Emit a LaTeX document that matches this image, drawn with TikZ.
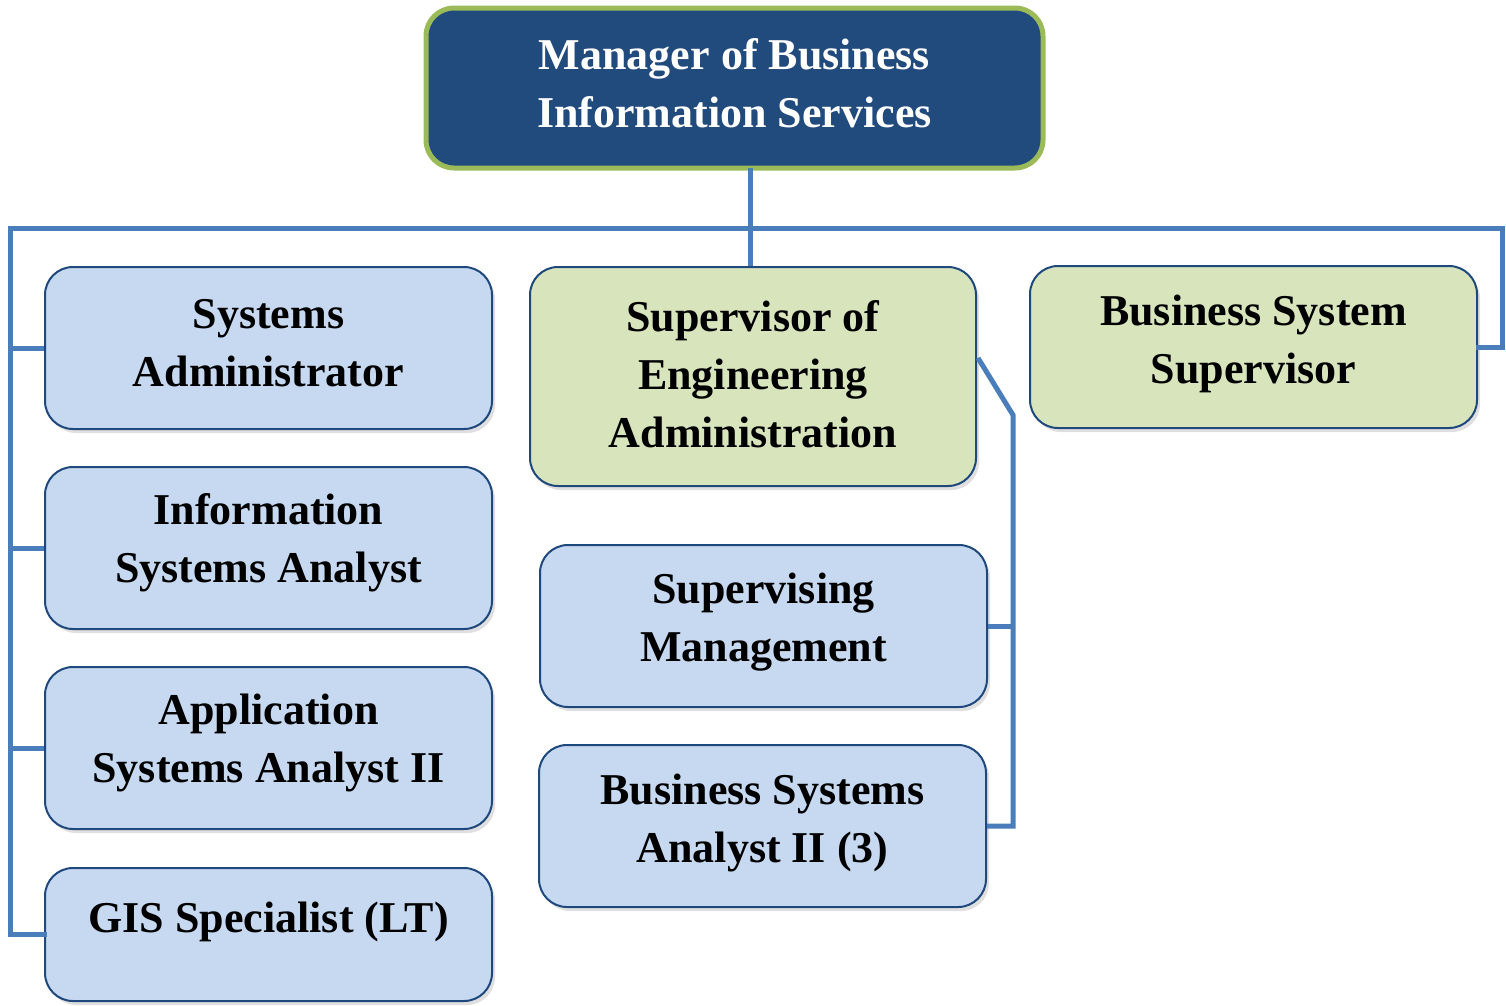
\documentclass[tikz,border=0pt]{standalone}
\usepackage{fontspec}
\setmainfont{Liberation Serif}
\usetikzlibrary{shadows}
\definecolor{darkblue}{HTML}{1F497D}
\definecolor{topfill}{HTML}{214A7D}
\definecolor{greenborder}{HTML}{9BBB59}
\definecolor{lightblue}{HTML}{C6D9F0}
\definecolor{lightgreen}{HTML}{D7E4BC}
\definecolor{linkblue}{HTML}{4A7EBB}
\begin{document}
\begin{tikzpicture}[x=1pt,y=-1pt,
  box/.style={draw=darkblue, line width=2pt, rounded corners=28pt,
    minimum width=447pt, minimum height=162pt, inner sep=0pt,
    drop shadow={shadow xshift=3pt, shadow yshift=-4pt, opacity=0.25}},
  bluebox/.style={box, fill=lightblue},
  greenbox/.style={box, fill=lightgreen},
  lbl/.style={align=center, inner sep=0pt, font=\fontsize{44}{58}\selectfont\bfseries},
  link/.style={draw=linkblue, line width=5pt}]
\useasboundingbox (0,0) rectangle (1506,1005);

\coordinate (hl) at (8,228);
\coordinate (hr) at (1504,228);
\coordinate (lv) at (10,228);
\coordinate (rv) at (1502,228);
\coordinate (tv) at (750,168);

% top box
\node[draw=greenborder, line width=5pt, fill=topfill, rounded corners=28pt,
  minimum width=617pt, minimum height=160pt, inner sep=0pt]
  (top) at (734.5,88) {};
\node[lbl, text=white] (topt) at (734.5,83) {Manager of Business\\Information Services};

% left column
\node[bluebox] (sa) at (268.5,348) {};
\node[lbl] (sat) at (268.5,343) {Systems\\Administrator};
\node[bluebox] (isa) at (268.5,548) {};
\node[lbl] (isat) at (268.5,543) {Information\\Systems Analyst};
\node[bluebox] (asa) at (268.5,748) {};
\node[lbl] (asat) at (268.5,743) {Application\\Systems Analyst II};
\node[bluebox, minimum height=133pt] (gis) at (268.5,934.5) {};
\node[lbl] (gist) at (268.5,922) {GIS Specialist (LT)};

% middle column
\node[greenbox, minimum width=446pt, minimum height=219pt] (sup) at (753,376.5) {};
\node[lbl] (supt) at (753,374) {Supervisor of\\Engineering\\Administration};
\node[bluebox] (sm) at (763.5,626) {};
\node[lbl] (smt) at (763.5,622) {Supervising\\Management};
\node[bluebox] (bsa) at (762.5,826) {};
\node[lbl] (bsat) at (762.5,823) {Business Systems\\Analyst II (3)};

% right
\node[greenbox] (bss) at (1253.5,347) {};
\node[lbl] (bsst) at (1253.5,344) {Business System\\Supervisor};

% connectors
\draw[link] (tv) -- (tv |- sup.north);
\draw[link] (hl) -- (hr);
\draw[link, line cap=rect] (lv) -- (lv |- gis.west) -- (gis.west);
\draw[link] (lv |- sa.west) -- (sa.west);
\draw[link] (lv |- isa.west) -- (isa.west);
\draw[link] (lv |- asa.west) -- (asa.west);
\draw[link, line cap=rect] (rv) -- (rv |- bss.east) -- (bss.east);

\coordinate (sj) at (978,358);
\coordinate (sk) at (1013,415);
\draw[link] (sj) -- (sk) -- (sk |- bsa.east) -- (bsa.east);
\draw[link] (sk |- sm.east) -- (sm.east);
\end{tikzpicture}
\end{document}
